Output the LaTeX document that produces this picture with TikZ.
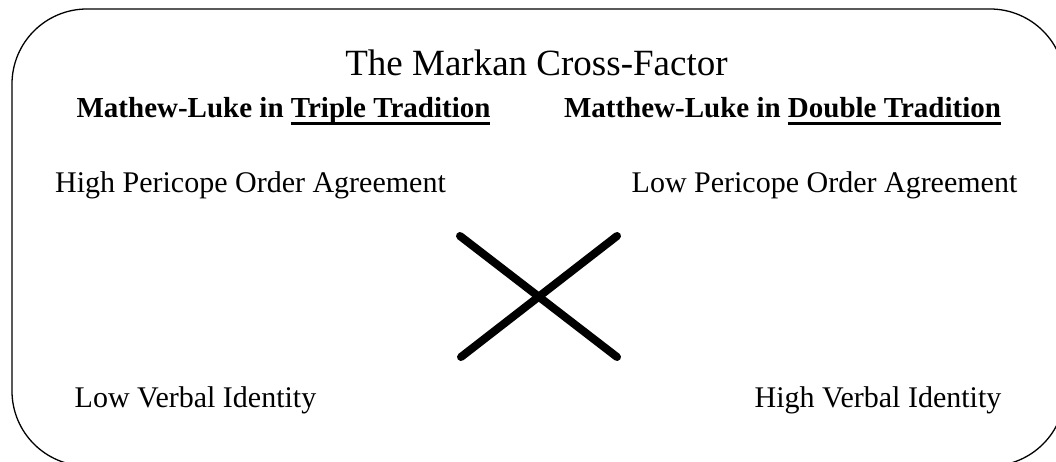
\documentclass[tikz,border=0pt]{standalone}
\usepackage{fontspec}
\setmainfont{Liberation Serif}
\newcommand{\headul}[1]{\setbox0\hbox{#1}\rlap{\rule[-6.8pt]{\wd0}{3.2pt}}\box0}
\tikzset{
  frame/.style={draw=black, line width=1.3pt, rounded corners=75pt},
  titletext/.style={inner sep=0pt, anchor=base, font=\fontsize{37}{44}\selectfont},
  headtext/.style={inner sep=0pt, anchor=base, font=\bfseries\fontsize{29}{35}\selectfont},
  factortext/.style={inner sep=0pt, anchor=base, font=\fontsize{30}{36}\selectfont},
  crossline/.style={line width=8pt, line cap=round}
}
\begin{document}
\begin{tikzpicture}[x=1pt, y=-1pt]
  \useasboundingbox (0,0) rectangle (1056,462);
  \clip (0,0) rectangle (1056,462);
  % outer frame, runs off the right and bottom edges
  \draw[frame] (12,9) rectangle (1065,466);
  \node[titletext] (title) at (536.5,76) {The Markan Cross-Factor};
  \node[headtext] (triple) at (283.5,118) {Mathew-Luke in \headul{Triple Tradition}};
  \node[headtext] (double) at (782.5,118) {Matthew-Luke in \headul{Double Tradition}};
  \node[factortext] (highorder) at (250.5,193) {High Pericope Order Agreement};
  \node[factortext] (loworder) at (824.5,193) {Low Pericope Order Agreement};
  \node[factortext] (lowverbal) at (195.5,407) {Low Verbal Identity};
  \node[factortext] (highverbal) at (878,407) {High Verbal Identity};
  % the cross
  \coordinate (nw) at (460,236);
  \coordinate (ne) at (617,236);
  \coordinate (sw) at (461,357);
  \coordinate (se) at (617,357);
  \draw[crossline] (nw) -- (se);
  \draw[crossline] (sw) -- (ne);
\end{tikzpicture}
\end{document}
